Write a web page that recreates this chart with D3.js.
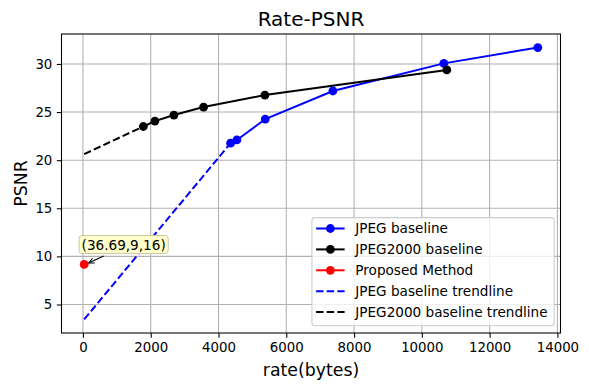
<!DOCTYPE html>
<html>
<head>
<meta charset="utf-8">
<script src="https://cdn.jsdelivr.net/npm/d3@7"></script>
<style>
  body { margin: 0; background: #fff; }
  svg { font-family: "DejaVu Sans", sans-serif; display: block; }
</style>
</head>
<body>
<svg id="chart"></svg>
<script>
// data
const jpegRate = [4357, 4543, 5380, 7375, 10649, 13422];
const jpegPsnr = [21.77, 22.1, 24.27, 27.19, 30.06, 31.7];

const j2kRate = [1781, 2124, 2684, 3560, 5369, 10737];
const j2kPsnr = [23.5, 24.06, 24.69, 25.52, 26.77, 29.375];

const propRate = [36.69];
const propPsnr = [9.16];

// trendlines (start at the proposed rate, end at first baseline point)
const jpegTrendRate = [36.69, 4357];
const jpegTrendPsnr = [3.45, 21.77];
const j2kTrendRate = [36.69, 1781];
const j2kTrendPsnr = [20.63, 23.5];

const xTicks = [0, 2000, 4000, 6000, 8000, 10000, 12000, 14000];
const yTicks = [5, 10, 15, 20, 25, 30];

const W = 589, H = 390;
const m = { left: 61.5, right: 560.5, top: 34, bottom: 333 };

const svg = d3.select("#chart").attr("width", W).attr("height", H);

// matplotlib-ish 5% margins
const allX = [].concat(jpegRate, j2kRate, propRate, jpegTrendRate, j2kTrendRate);
const allY = [].concat(jpegPsnr, j2kPsnr, propPsnr, jpegTrendPsnr, j2kTrendPsnr);
const pad = (lo, hi) => [lo - (hi - lo) * 0.05, hi + (hi - lo) * 0.05];

let x = d3.scaleLinear()
  .domain(pad(d3.min(allX), d3.max(allX)))
  .range([m.left, m.right]);
let y = d3.scaleLinear()
  .domain(pad(d3.min(allY), d3.max(allY)))
  .range([m.bottom, m.top]);

// grid
const grid = svg.append("g");
grid.selectAll(".gx").data(xTicks).enter().append("line")
  .attr("x1", d => x(d)).attr("x2", d => x(d))
  .attr("y1", m.top).attr("y2", m.bottom)
  .attr("stroke", "#b0b0b0").attr("stroke-width", 1.07);
grid.selectAll(".gy").data(yTicks).enter().append("line")
  .attr("y1", d => y(d)).attr("y2", d => y(d))
  .attr("x1", m.left).attr("x2", m.right)
  .attr("stroke", "#b0b0b0").attr("stroke-width", 1.07);

// axes
let xAxis = d3.axisBottom(x).tickValues(xTicks).tickSize(4.67).tickPadding(4.5).tickFormat(d3.format("d"));
let yAxis = d3.axisLeft(y).tickValues(yTicks).tickSize(4.67).tickPadding(4.5);

const gx = svg.append("g").attr("transform", `translate(0,${m.bottom})`).call(xAxis);
const gy = svg.append("g").attr("transform", `translate(${m.left},0)`).call(yAxis);
[gx, gy].forEach(g => {
  g.select(".domain").remove();
  g.selectAll("line").attr("stroke", "#000").attr("stroke-width", 1.07);
  g.selectAll("text").attr("fill", "#000").style("font-size", "13.33px")
    .style("font-family", "DejaVu Sans");
});

// frame
svg.append("rect")
  .attr("x", m.left).attr("y", m.top)
  .attr("width", m.right - m.left).attr("height", m.bottom - m.top)
  .attr("fill", "none").attr("stroke", "#000").attr("stroke-width", 1.07);

// series
const line = d3.line().x(d => x(d[0])).y(d => y(d[1]));
const zip = (a, b) => a.map((v, i) => [v, b[i]]);

const series = [
  { name: "JPEG baseline", pts: zip(jpegRate, jpegPsnr), color: "blue", dash: null, marker: true },
  { name: "JPEG2000 baseline", pts: zip(j2kRate, j2kPsnr), color: "black", dash: null, marker: true },
  { name: "Proposed Method", pts: zip(propRate, propPsnr), color: "red", dash: null, marker: true },
  { name: "JPEG baseline trendline", pts: zip(jpegTrendRate, jpegTrendPsnr), color: "blue", dash: "7.4,3.2", marker: false },
  { name: "JPEG2000 baseline trendline", pts: zip(j2kTrendRate, j2kTrendPsnr), color: "black", dash: "7.4,3.2", marker: false }
];

series.forEach(s => {
  svg.append("path")
    .datum(s.pts)
    .attr("d", line)
    .attr("fill", "none")
    .attr("stroke", s.color)
    .attr("stroke-width", 2)
    .attr("stroke-dasharray", s.dash);
  if (s.marker) {
    svg.selectAll(null).data(s.pts).enter().append("circle")
      .attr("cx", d => x(d[0])).attr("cy", d => y(d[1]))
      .attr("r", 4.4).attr("fill", s.color);
  }
});

// annotation
const px = x(propRate[0]), py = y(propPsnr[0]);
const ann = svg.append("g");
const annText = ann.append("text")
  .attr("x", px - 2.6).attr("y", py - 14.5)
  .style("font-size", "13.6px")
  .text("(36.69,9,16)");
const bb = annText.node().getBBox();
ann.insert("rect", "text")
  .attr("x", bb.x - 2.5).attr("y", bb.y - 1.5)
  .attr("width", bb.width + 5).attr("height", bb.height + 2)
  .attr("rx", 3)
  .attr("fill", "#ffffcc").attr("stroke", "#c8c8a0").attr("stroke-width", 1);
// arrow "->"
const ax0 = px + 19.5, ay0 = py - 8.5, ax1 = px + 4.5, ay1 = py - 1.5;
ann.append("line").attr("x1", ax0).attr("y1", ay0).attr("x2", ax1).attr("y2", ay1)
  .attr("stroke", "#000").attr("stroke-width", 1.07);
const ang = Math.atan2(ay1 - ay0, ax1 - ax0);
const hl = 6, hw = 0.45;
ann.append("path")
  .attr("d", `M${ax1 - hl * Math.cos(ang - hw)},${ay1 - hl * Math.sin(ang - hw)} L${ax1},${ay1} L${ax1 - hl * Math.cos(ang + hw)},${ay1 - hl * Math.sin(ang + hw)}`)
  .attr("fill", "none").attr("stroke", "#000").attr("stroke-width", 1.07);

// legend
const lg = svg.append("g");
const rowH = 20.9, lPad = 4.2, handleLen = 28.5, textGap = 10.7;
const legBottom = m.bottom - 7.3;
const legH = rowH * series.length + 3.6;
const legTop = legBottom - legH;
const texts = [];
series.forEach((s, i) => {
  const cy = legTop + 10.9 + i * rowH;
  texts.push(lg.append("text")
    .attr("y", cy + 4.8)
    .style("font-size", "13.6px")
    .text(s.name));
});
const maxW = d3.max(texts, t => t.node().getComputedTextLength());
const legW = lPad + handleLen + textGap + maxW + 6.6;
const legRight = m.right - 6.3;
const legLeft = legRight - legW;
lg.insert("rect", "text")
  .attr("x", legLeft).attr("y", legTop)
  .attr("width", legW).attr("height", legH)
  .attr("rx", 3)
  .attr("fill", "rgba(255,255,255,0.8)")
  .attr("stroke", "#cccccc").attr("stroke-width", 1.07);
series.forEach((s, i) => {
  const cy = legTop + 10.9 + i * rowH;
  const hx = legLeft + lPad;
  lg.append("line")
    .attr("x1", hx).attr("x2", hx + handleLen)
    .attr("y1", cy).attr("y2", cy)
    .attr("stroke", s.color).attr("stroke-width", 2)
    .attr("stroke-dasharray", s.dash);
  if (s.marker) {
    lg.append("circle").attr("cx", hx + handleLen / 2).attr("cy", cy).attr("r", 4.4).attr("fill", s.color);
  }
  texts[i].attr("x", hx + handleLen + textGap);
});

// title and labels
svg.append("text")
  .attr("x", (m.left + m.right) / 2).attr("y", 26)
  .attr("text-anchor", "middle")
  .style("font-size", "20px")
  .text("Rate-PSNR");
svg.append("text")
  .attr("x", (m.left + m.right) / 2).attr("y", 375.5)
  .attr("text-anchor", "middle")
  .style("font-size", "17.33px")
  .text("rate(bytes)");
svg.append("text")
  .attr("transform", `translate(26.5,${(m.top + m.bottom) / 2}) rotate(-90)`)
  .attr("text-anchor", "middle")
  .style("font-size", "17.33px")
  .text("PSNR");
</script>
</body>
</html>
